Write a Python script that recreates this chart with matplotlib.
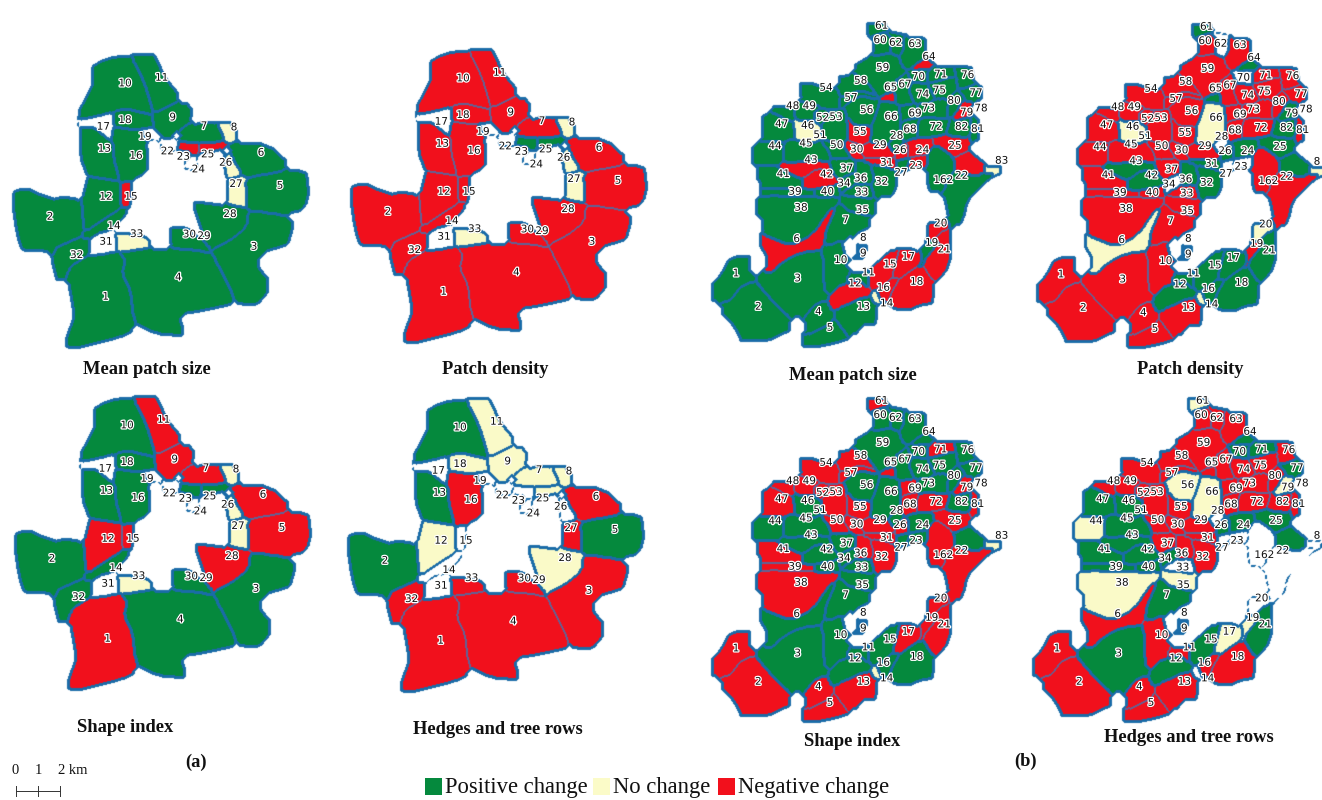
import matplotlib
matplotlib.use("Agg")
import matplotlib.pyplot as plt
import matplotlib.patheffects as pe
from matplotlib.patches import Rectangle
from matplotlib.path import Path
from matplotlib.colors import to_rgb
import numpy as np

GREEN, YELLOW, RED, BLUE, SEAM = "#05893d", "#fbfbc8", "#f2101c", "#1a6ca8", "#5f6498"

# ---------- Landscape (a): outlines ----------
A_SHAPES = {
 "10": [(275,85),(330,55),(390,45),(430,120),(460,220),(380,205),(330,215),(300,225),(230,235),(260,180),(280,140)],
 "11": [(390,45),(450,40),(470,70),(490,120),(540,180),(460,220),(430,120)],
 "9": [(460,220),(540,180),(580,225),(520,270),(500,290),(470,260)],
 "18": [(340,212),(380,205),(445,222),(450,250),(400,265),(340,250)],
 "17": [(230,240),(300,225),(335,215),(335,255),(330,300),(300,290),(290,260),(240,255)],
 "13": [(240,265),(285,265),(335,305),(340,355),(355,410),(320,415),(265,405),(240,340)],
 "16": [(335,265),(400,270),(430,280),(445,370),(420,400),(380,420),(355,410),(340,355)],
 "12": [(265,410),(320,415),(360,440),(360,495),(350,510),(250,580),(245,490)],
 "15": [(360,440),(390,425),(395,455),(385,500),(360,495)],
 "14": [(350,510),(385,500),(345,550),(250,590),(250,578)],
 "2": [(35,465),(70,445),(100,460),(160,480),(200,470),(245,490),(250,580),(160,650),(150,630),(70,630),(50,570)],
 "32": [(150,630),(250,585),(265,640),(200,680),(175,730)],
 "31": [(265,640),(290,585),(345,575),(350,625),(290,640)],
 "33": [(345,575),(430,590),(450,620),(350,630)],
 "1": [(200,690),(260,650),(360,640),(375,660),(365,700),(390,750),(400,840),(390,870),(350,890),(190,930),(225,830)],
 "4": [(360,640),(450,625),(630,630),(710,785),(600,810),(530,820),(550,885),(480,880),(400,840),(390,750),(365,700),(375,660)],
 "3": [(630,630),(690,600),(750,510),(880,540),(860,610),(775,635),(770,690),(810,735),(760,795),(710,785)],
 "28": [(580,485),(660,495),(740,510),(740,560),(690,600),(630,630),(590,520)],
 "30": [(510,565),(545,560),(590,600),(630,630),(530,625),(510,600)],
 "27": [(680,425),(735,405),(740,495),(680,480)],
 "26": [(670,350),(690,345),(725,400),(680,410)],
 "6": [(690,310),(790,310),(870,385),(735,410),(700,360)],
 "5": [(735,410),(915,385),(925,470),(885,520),(740,505)],
 "8": [(650,245),(680,245),(715,295),(680,300)],
 "7": [(540,300),(550,265),(640,240),(670,300)],
 "19": [(420,270),(450,270),(480,300),(440,300)],
 "22": [(480,300),(530,300),(520,335),(490,330)],
 "23": [(535,310),(590,310),(590,335),(540,330)],
 "25": [(600,310),(680,310),(660,325),(600,340)],
 "24": [(555,370),(590,350),(590,390),(560,385)],
}
A_LABELS = {
 "1":(317,770),"2":(150,530),"3":(762,620),"4":(535,712),"5":(840,437),"6":(783,338),"7":(612,258),
 "8":(702,262),"9":(518,232),"10":(375,130),"11":(485,113),"12":(318,470),"13":(313,326),"14":(342,558),
 "15":(393,470),"16":(408,347),"17":(310,260),"18":(375,240),"19":(435,290),"22":(502,334),"23":(550,350),
 "24":(595,388),"25":(623,343),"26":(677,368),"27":(708,432),"28":(690,522),"29":(612,588),"30":(568,583),
 "31":(318,605),"32":(230,645),"33":(410,582),
}
A_ALL = list(A_SHAPES)
A_MEAN_NEG = ["15","23","25"]
A_MEAN_NO = ["33","27","26","8"]
A_MEAN_NONE = ["17","19","22","24","31"]
A_DENS_POS = ["23","25"]
A_DENS_NO = ["33","27","26","8"]
A_DENS_NONE = ["17","19","22","24","31"]
A_SHAPE_NEG = ["11","9","7","6","5","12","15","28","1"]
A_SHAPE_NO = ["27","33","26","8"]
A_SHAPE_NONE = ["17","19","22","24","31"]
A_HEDGE_POS = ["10","13","2","5"]
A_HEDGE_NEG = ["16","6","27","3","4","1","32","33","30"]
A_HEDGE_NO = ["11","9","18","7","8","12","25","28"]
A_HEDGE_NONE = ["14","15","17","19","22","23","24","26","31"]

def status(names, pos=(), no=(), neg=(), none=(), default="G"):
    out = {n: default for n in names}
    out.update({n: "G" for n in pos}); out.update({n: "Y" for n in no})
    out.update({n: "R" for n in neg}); out.update({n: "W" for n in none})
    return out

A_PANELS = [
 (0, 0, status(A_ALL, no=A_MEAN_NO, neg=A_MEAN_NEG, none=A_MEAN_NONE)),
 (338, -5, status(A_ALL, pos=A_DENS_POS, no=A_DENS_NO, none=A_DENS_NONE, default="R")),
 (2, 342, status(A_ALL, no=A_SHAPE_NO, neg=A_SHAPE_NEG, none=A_SHAPE_NONE)),
 (335, 344, status(A_ALL, pos=A_HEDGE_POS, no=A_HEDGE_NO, neg=A_HEDGE_NEG, none=A_HEDGE_NONE)),
]

# ---------- Landscape (b) ----------
B_SHAPES = {
 "61": [(500,25),(555,25),(555,50),(520,60),(505,50)],
 "60": [(520,60),(555,50),(575,70),(565,110),(530,120),(520,100)],
 "62": [(555,50),(610,60),(610,100),(590,110),(570,105),(575,70)],
 "63": [(610,65),(650,65),(680,95),(660,125),(625,150),(610,145),(610,100)],
 "64": [(640,165),(660,145),(695,138),(690,155),(660,165),(650,175)],
 "59": [(465,160),(530,120),(565,115),(590,150),(610,175),(580,190),(585,205),(555,235),(530,240),(500,200),(470,180)],
 "58": [(415,185),(470,180),(500,200),(530,240),(480,225),(440,240),(420,220)],
 "54": [(305,200),(350,215),(400,225),(415,270),(355,265),(320,260),(300,230)],
 "57": [(420,265),(440,240),(480,225),(530,240),(525,250),(480,240),(440,265)],
 "56": [(440,265),(480,240),(540,255),(515,330),(460,330),(440,300)],
 "55": [(440,300),(460,330),(515,330),(505,385),(480,390),(450,360)],
 "66": [(540,255),(590,270),(600,320),(590,350),(570,375),(510,380),(515,330)],
 "65": [(555,235),(585,240),(585,255),(540,255)],
 "67": [(585,205),(610,180),(640,195),(620,225),(640,270),(600,265),(585,255)],
 "70": [(640,165),(690,160),(680,205),(650,200),(625,190)],
 "71": [(680,165),(755,150),(760,180),(680,205)],
 "76": [(760,150),(810,160),(820,210),(770,220),(775,180)],
 "75": [(680,205),(760,185),(770,220),(745,250),(700,240)],
 "74": [(640,200),(680,205),(700,240),(685,265),(650,265),(625,225)],
 "77": [(820,210),(845,225),(830,260),(790,240),(770,225)],
 "80": [(745,250),(770,225),(790,240),(770,280),(740,300)],
 "79": [(780,265),(815,265),(810,300),(760,318),(775,290)],
 "73": [(650,265),(685,265),(740,250),(740,300),(680,305),(650,300)],
 "69": [(600,270),(650,265),(650,300),(625,320),(600,320)],
 "72": [(650,330),(680,305),(740,320),(730,350),(650,360)],
 "68": [(600,320),(650,305),(650,360),(610,370)],
 "82": [(760,318),(805,305),(815,345),(770,370),(740,350)],
 "81": [(810,310),(835,315),(835,370),(815,375)],
 "25": [(690,372),(770,360),(810,380),(790,410),(765,425),(720,395)],
 "24": [(625,375),(700,372),(690,395),(650,420),(620,425)],
 "22": [(765,425),(800,415),(850,455),(830,480),(765,465)],
 "162": [(685,450),(700,400),(720,395),(750,420),(760,465),(730,520),(700,530),(680,490)],
 "62b": [(730,520),(760,465),(830,485),(890,470),(850,490),(800,540),(790,590),(765,635),(745,590)],
 "83": [(855,460),(885,450),(905,460),(885,478),(860,470)],
 "1": [(30,830),(60,800),(90,740),(135,720),(150,740),(140,775),(165,795),(120,815),(95,850),(60,860)],
 "2": [(60,870),(95,850),(120,815),(160,797),(230,870),(275,935),(240,950),(190,975),(130,975),(110,930),(90,900)],
 "3": [(165,795),(205,770),(240,750),(295,720),(365,715),(375,820),(380,850),(340,870),(290,910),(230,870)],
 "4": [(320,960),(315,920),(340,870),(375,855),(390,885),(390,925)],
 "5": [(300,970),(390,925),(410,920),(445,965),(380,985),(325,995)],
 "13": [(410,885),(500,845),(530,880),(520,930),(490,910),(445,965),(410,920)],
 "14": [(515,840),(530,830),(540,855),(525,860)],
 "12": [(380,860),(420,830),(470,790),(520,825),(450,860),(400,880)],
 "11": [(440,800),(470,770),(505,770),(505,820),(470,790)],
 "15": [(505,820),(505,780),(550,740),(600,695),(575,790),(545,815)],
 "17": [(600,695),(640,710),(665,735),(650,760),(600,790),(575,790)],
 "16": [(545,815),(575,790),(600,790),(575,830),(555,860),(540,850),(530,825)],
 "18": [(575,830),(600,790),(665,745),(700,800),(695,860),(640,870),(610,885),(570,860)],
 "21": [(665,745),(700,700),(725,650),(750,650),(750,730),(700,800)],
 "19": [(650,760),(665,735),(680,680),(720,680),(700,700),(665,745)],
 "20": [(680,650),(700,620),(740,625),(725,650),(680,670)],
 "10": [(370,700),(400,690),(420,680),(440,760),(430,800),(410,790),(380,830),(370,820)],
 "6": [(175,665),(210,670),(260,690),(340,660),(380,590),(400,580),(375,640),(360,690),(310,700),(250,730),(220,770),(195,770),(205,715)],
 "35": [(420,540),(490,545),(530,575),(500,600),(440,585)],
 "7": [(415,570),(440,585),(500,600),(510,625),(440,660),(385,685),(375,660)],
 "33": [(440,510),(500,510),(510,545),(470,540),(430,540)],
 "38": [(175,560),(220,545),(350,545),(410,545),(385,590),(340,650),(280,690),(215,665),(185,630),(195,600),(165,580)],
 "39": [(180,515),(340,520),(340,542),(180,532)],
 "40": [(340,520),(410,500),(415,540),(345,545)],
 "41": [(165,460),(230,460),(305,495),(305,520),(180,520),(185,495)],
 "42": [(305,495),(350,460),(400,470),(415,510),(345,520),(305,520)],
 "43": [(225,450),(350,430),(395,470),(350,460),(305,490)],
 "44": [(155,410),(195,380),(250,380),(250,440),(155,440)],
 "45": [(250,380),(350,370),(390,420),(350,435),(250,440)],
 "46": [(290,320),(350,320),(360,380),(290,380),(280,340)],
 "47": [(190,305),(225,295),(280,340),(280,360),(250,375),(190,375),(185,340)],
 "48": [(220,270),(275,285),(270,310),(240,300),(220,290)],
 "49": [(295,265),(350,270),(335,310),(305,310),(290,290)],
 "52": [(340,290),(385,295),(390,325),(350,320)],
 "53": [(385,295),(430,290),(435,340),(420,380),(380,370),(365,330)],
 "50": [(365,380),(420,385),(450,430),(420,440),(385,400)],
 "37": [(400,430),(460,430),(465,470),(420,490),(395,470)],
 "30": [(430,390),(480,385),(490,430),(460,430)],
 "29": [(480,395),(510,380),(580,410),(570,425),(490,425)],
 "31": [(490,430),(570,430),(590,450),(570,465),(510,445)],
 "36": [(465,440),(510,445),(520,490),(470,505),(465,470)],
 "32": [(510,445),(580,460),(590,500),(555,550),(525,520),(520,480)],
 "34": [(420,490),(465,470),(465,510),(420,530)],
 "26": [(590,395),(625,390),(625,425),(590,430)],
 "27": [(590,440),(630,430),(610,465),(585,465)],
 "23": [(630,430),(660,425),(680,445),(620,460)],
 "28": [(570,375),(600,370),(600,395),(580,405)],
 "8": [(470,690),(498,690),(498,695),(470,695)],
 "9": [(472,705),(490,705),(490,730),(472,730)],
}
B_LABELS = [
 ("1",108,775),("2",175,875),("3",293,790),("4",355,890),("5",390,938),("6",290,672),("7",437,615),("8",490,668),
 ("9",490,715),("10",422,735),("11",505,772),("12",465,805),("13",490,875),("14",560,865),("15",570,748),("16",550,818),
 ("17",625,725),("18",650,800),("19",695,683),("20",722,625),("21",733,703),("22",785,482),("23",648,452),("24",668,405),
 ("25",765,392),("26",600,405),("27",603,473),("28",590,362),("29",540,390),("30",470,403),("31",560,443),("32",545,500),
 ("33",485,532),("34",432,505),("35",487,585),("36",482,490),("37",440,460),("38",303,578),("39",285,530),("40",382,530),
 ("41",250,477),("42",380,478),("43",333,435),("44",225,393),("45",318,385),("46",323,332),("47",245,327),("48",278,273),
 ("49",328,273),("50",410,390),("51",360,360),("52",368,308),("53",408,306),("54",378,218),("55",480,350),("56",500,285),
 ("57",453,248),("58",482,197),("59",548,158),("60",540,75),("61",545,32),("62",587,83),("63",645,87),("64",687,125),
 ("65",572,217),("67",615,208),("66",573,305),("68",630,343),("69",645,295),("70",655,185),("71",722,178),("72",708,335),
 ("73",685,280),("74",668,238),("75",718,226),("76",803,180),("77",828,234),("78",843,280),("79",800,292),("80",762,257),
 ("81",833,342),("82",785,335),("83",905,437),("162",730,495),
]
B_ALL = list(B_SHAPES)
B_MEAN_NEG = ["6","15","16","17","18","20","21","12","29","30","31","43","42","55","65","64","24","25","79","22","26","23"]
B_MEAN_NO = ["46","83","14"]
B_DENS_POS = ["15","17","16","11","12","18","21","31","32","36","42","43","25","22","82","79","65","64","26","24","61"]
B_DENS_NO = ["46","66","6","20","14","83"]
B_DENS_NONE = ["34","28","27","23","70","62"]
B_SHAPE_NEG = ["61","58","57","54","49","48","47","52","53","50","55","65","71","69","68","72","30","29","31","36","32",
               "41","39","38","1","2","4","5","13","17","19","20","21","162","62b","25","79","81","26"]
B_SHAPE_NO = ["83","14"]
B_HEDGE_POS = ["3","7","12","15","21","41","42","43","45","46","47","64","70","71","77","25","24","22","26","39","40","34"]
B_HEDGE_NEG = ["1","2","4","5","13","10","6","18","16","59","58","54","49","57","52","53","50","37","29","30","31","36","32",
               "63","60","62","67","65","69","68","73","74","75","72","76","80","81","82","55","48","11"]
B_HEDGE_NO = ["38","35","56","66","17","19","79","61","44"]
B_HEDGE_NONE = ["162","62b","20","23","27","33","14","83","28"]
B_ALWAYS_LINE = ["8","9"]

B_PANELS = [
 (0, -375, status(B_ALL, no=B_MEAN_NO, neg=B_MEAN_NEG)),
 (325, -374, status(B_ALL, pos=B_DENS_POS, no=B_DENS_NO, none=B_DENS_NONE, default="R")),
 (0, 0, status(B_ALL, no=B_SHAPE_NO, neg=B_SHAPE_NEG)),
 (321, 0, status(B_ALL, pos=B_HEDGE_POS, no=B_HEDGE_NO, neg=B_HEDGE_NEG, none=B_HEDGE_NONE)),
]
for _, _, st in B_PANELS:
    st.update({n: "B" for n in B_ALWAYS_LINE})

TITLES = [("Mean patch size",147,370),("Patch density",495,370),("Shape index",125,727),("Hedges and tree rows",498,729),
          ("Mean patch size",853,375),("Patch density",1190,369),("Shape index",852,741),("Hedges and tree rows",1189,738),
          ("(a)",196,762),("(b)",1026,761)]
LEGEND = [("Positive change",GREEN,425,445),("No change",YELLOW,593,613),("Negative change",RED,718,738)]
SCALE_TICKS = [16,38,60]
SCALE_TEXT = [("0",15),("1",38),("2 km",73)]

W, H = 1322, 800
PAD = 400   # room for panels that sit above the base position

def chaikin(pts):
    p = np.asarray(pts, float); q = np.roll(p, -1, axis=0)
    return np.column_stack([0.8*p + 0.2*q, 0.2*p + 0.8*q]).reshape(-1, 2)

def rasterize(shapes, ox, oy, grow):
    names = list(shapes)
    grid = -np.ones((H + PAD, W), int)
    for i, n in enumerate(names):
        poly = chaikin(shapes[n]) / 3 + (ox, oy + PAD)
        x0, y0 = np.floor(poly.min(0)).astype(int); x1, y1 = np.ceil(poly.max(0)).astype(int)
        sub = grid[y0:y1, x0:x1]
        sx, sy = np.meshgrid(np.arange(x0, x1) + 0.5, np.arange(y0, y1) + 0.5)
        inside = Path(poly).contains_points(np.column_stack([sx.ravel(), sy.ravel()])).reshape(sx.shape)
        sub[inside] = i
    original = grid >= 0
    for _ in range(grow):
        for axis, step in ((0, 1), (0, -1), (1, 1), (1, -1)):
            nb = np.roll(grid, step, axis=axis)
            m = (grid < 0) & (nb >= 0)
            grid[m] = nb[m]
    for _ in range(grow):
        bg = grid < 0
        touch = bg | np.roll(bg, 1, 0) | np.roll(bg, -1, 0) | np.roll(bg, 1, 1) | np.roll(bg, -1, 1)
        grid[touch & ~original] = -1
    return grid, names

canvas = np.ones((H, W, 3))
yy, xx = np.mgrid[0:H, 0:W]
dash_on = ((xx + yy) % 8) < 5

def paint(grid, names, st, dx, dy):
    grid = np.roll(np.roll(grid, dy, axis=0), dx, axis=1)[PAD:, :].copy()
    if dx > 0:
        grid[:, :dx] = -1
    codes = np.array([{"G":0,"Y":1,"R":2,"W":3,"B":4}[st[n]] for n in names] + [3])
    kind = codes[grid]            # -1 picks the last entry: background acts as white
    pal = np.array([to_rgb(GREEN), to_rgb(YELLOW), to_rgb(RED), (1,1,1), to_rgb(BLUE)])
    img = pal[kind]
    solid = np.zeros(grid.shape, bool); seam = solid.copy(); dashed = solid.copy()
    for axis in (0, 1):
        nb_g = np.roll(grid, -1, axis); nb_k = np.roll(kind, -1, axis)
        diff = grid != nb_g
        if axis == 0:
            diff[-1, :] = False
        else:
            diff[:, -1] = False
        both_red = diff & (kind == 2) & (nb_k == 2)
        both_white = diff & (kind == 3) & (nb_k == 3)
        other = diff & ~both_red & ~both_white
        for mask, store in ((both_red, seam), (both_white, dashed), (other, solid)):
            store |= mask | np.roll(mask, 1, axis)
    # solid outlines are a little wider than the seams between red parcels
    wide = solid | np.roll(solid, 1, 0) | np.roll(solid, 1, 1)
    wide[0, :] = solid[0, :]; wide[:, 0] = solid[:, 0]
    img[dashed & dash_on] = to_rgb(BLUE)
    img[seam] = to_rgb(SEAM)
    img[wide] = to_rgb(BLUE)
    mask = (grid >= 0) | wide | seam | (dashed & dash_on)
    canvas[mask] = img[mask]

grid_a, names_a = rasterize(A_SHAPES, 0, 40, 4)
grid_b, names_b = rasterize(B_SHAPES, 700, 390, 6)
for dx, dy, st in A_PANELS:
    paint(grid_a, names_a, st, dx, dy)
for dx, dy, st in B_PANELS:
    paint(grid_b, names_b, st, dx, dy)

# soft edges, as in the scanned source
k = [0.14, 0.72, 0.14]
soft = np.pad(canvas, ((1, 1), (1, 1), (0, 0)), mode="edge")
for axis in (0, 1):
    soft = k[0]*np.roll(soft, 1, axis) + k[1]*soft + k[2]*np.roll(soft, -1, axis)
soft = soft[1:-1, 1:-1]

fig = plt.figure(figsize=(13.22, 8), dpi=100)
ax = fig.add_axes([0, 0, 1, 1])
ax.imshow(soft, extent=(0, W, H, 0), interpolation="nearest", aspect="auto", zorder=1)
ax.set_xlim(0, W); ax.set_ylim(H, 0); ax.axis("off")
halo = [pe.withStroke(linewidth=1.8, foreground="white")]

def put_labels(labels, ox, oy, dx, dy):
    for t, x, y in labels:
        px, py = ox + x/3 + dx, oy + y/3 + dy
        if px > W - 12:            # the source page crops this number at its edge
            t, px = t[0], W - 5
        ax.text(px, py, t, ha="center", va="center", fontsize=7.5, family="DejaVu Sans",
                color="#111111", path_effects=halo, zorder=5)

A_LAB = [(k_, v[0], v[1]) for k_, v in A_LABELS.items()]
for dx, dy, st in A_PANELS:
    put_labels(A_LAB, 0, 40, dx, dy)
for dx, dy, st in B_PANELS:
    put_labels(B_LABELS, 700, 390, dx, dy)

for t, x, y in TITLES:
    ax.text(x, y, t, ha="center", va="center", fontsize=13.3, fontweight="bold", family="Liberation Serif", color="#111111")

for t, c, x0, xt in LEGEND:
    ax.add_patch(Rectangle((x0, 778), 17, 17, facecolor=c, edgecolor="none", zorder=3))
    ax.text(xt, 787, t, ha="left", va="center", fontsize=16.3, family="Liberation Serif", color="#111111")

ax.plot([SCALE_TICKS[0], SCALE_TICKS[-1]], [791, 791], color="#333333", lw=0.7)
for x in SCALE_TICKS:
    ax.plot([x, x], [786, 796], color="#333333", lw=0.7)
for t, x in SCALE_TEXT:
    ax.text(x, 771, t, ha="center", va="center", fontsize=10.5, family="Liberation Serif", color="#111111")

fig.savefig("out.png", dpi=100, facecolor="white")
